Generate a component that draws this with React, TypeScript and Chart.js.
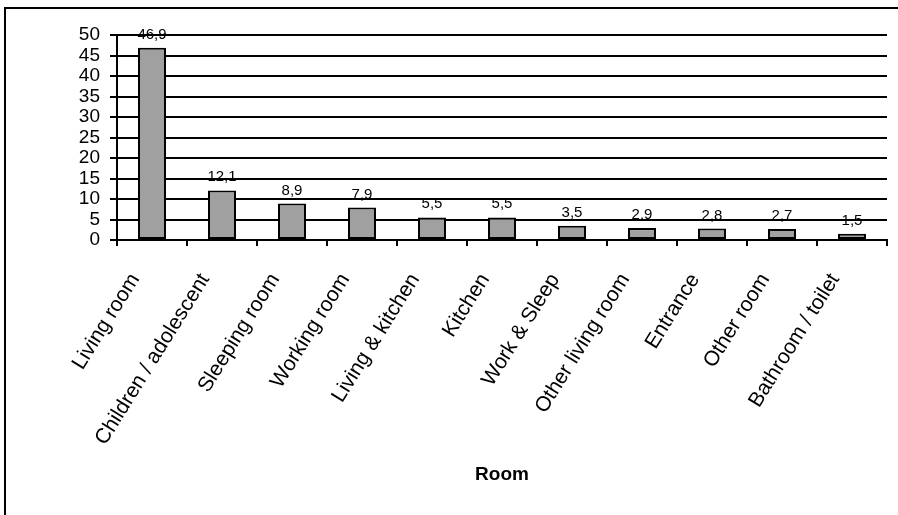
import React, { useEffect, useRef } from "react";
import { Chart, registerables } from "chart.js";

Chart.register(...registerables);

const categories = [
  "Living room",
  "Children / adolescent",
  "Sleeping room",
  "Working room",
  "Living & kitchen",
  "Kitchen",
  "Work & Sleep",
  "Other living room",
  "Entrance",
  "Other room",
  "Bathroom / toilet",
];
const values = [46.9, 12.1, 8.9, 7.9, 5.5, 5.5, 3.5, 2.9, 2.8, 2.7, 1.5];
const axisTitle = "Room";
const yMin = 0;
const yMax = 50;
const yStep = 5;

const FONT = "'Liberation Sans', Arial, sans-serif";

const frame = {
  id: "frame",
  beforeDraw(chart: any) {
    const ctx = chart.ctx;
    ctx.save();
    ctx.fillStyle = "#ffffff";
    ctx.fillRect(0, 0, chart.width, chart.height);
    ctx.strokeStyle = "#000000";
    ctx.lineWidth = 2;
    ctx.strokeRect(5, 8, 1200, 1200);
    ctx.restore();
  },
};

const valueLabels = {
  id: "valueLabels",
  afterDatasetsDraw(chart: any) {
    const ctx = chart.ctx;
    const meta = chart.getDatasetMeta(0);
    const data = chart.data.datasets[0].data as number[];
    ctx.save();
    ctx.fillStyle = "#000000";
    ctx.font = `15px ${FONT}`;
    ctx.textAlign = "center";
    ctx.textBaseline = "alphabetic";
    meta.data.forEach((el: any, i: number) => {
      const txt = data[i].toFixed(1).replace(".", ",");
      ctx.fillText(txt, el.x, el.y - 9);
    });
    ctx.restore();
  },
};

export default function App() {
  const ref = useRef<HTMLCanvasElement | null>(null);
  useEffect(() => {
    if (!ref.current) return;
    const chart = new Chart(ref.current, {
      type: "bar",
      data: {
        labels: categories,
        datasets: [
          {
            data: values,
            backgroundColor: "#a0a0a0",
            borderColor: "#000000",
            borderWidth: 2,
            borderSkipped: false,
            barPercentage: 0.4,
            categoryPercentage: 1,
          },
        ],
      },
      options: {
        animation: false,
        responsive: false,
        maintainAspectRatio: false,
        events: [],
        layout: { padding: { left: 0, right: 11, top: 35, bottom: 20 } },
        plugins: {
          legend: { display: false },
          tooltip: { enabled: false },
          title: { display: false },
        },
        scales: {
          x: {
            afterFit: (s: any) => {
              s.height = 255;
            },
            grid: {
              drawOnChartArea: false,
              drawTicks: true,
              tickLength: 6,
              color: "#000000",
              lineWidth: 2,
            },
            border: { display: true, color: "#000000", width: 2 },
            ticks: {
              autoSkip: false,
              minRotation: 58,
              maxRotation: 58,
              padding: 23,
              labelOffset: -17,
              color: "#000000",
              font: { family: FONT, size: 21 },
            },
            title: {
              display: true,
              text: axisTitle,
              color: "#000000",
              font: { family: FONT, size: 19, weight: "bold" },
              padding: { top: 0, bottom: 9 },
            },
          },
          y: {
            min: yMin,
            max: yMax,
            afterFit: (s: any) => {
              s.width = 117;
            },
            grid: {
              color: "#000000",
              lineWidth: 2,
              drawTicks: true,
              tickLength: 7,
            },
            border: { display: true, color: "#000000", width: 2 },
            ticks: {
              autoSkip: false,
              stepSize: yStep,
              padding: 10,
              color: "#000000",
              font: { family: FONT, size: 19 },
            },
          },
        },
      },
      plugins: [frame, valueLabels],
    });
    return () => chart.destroy();
  }, []);
  return (
    <div style={{ position: "absolute", left: 0, top: 0, width: 898, height: 515, overflow: "hidden" }}>
      <canvas ref={ref} width={898} height={515} style={{ display: "block" }} />
    </div>
  );
}
